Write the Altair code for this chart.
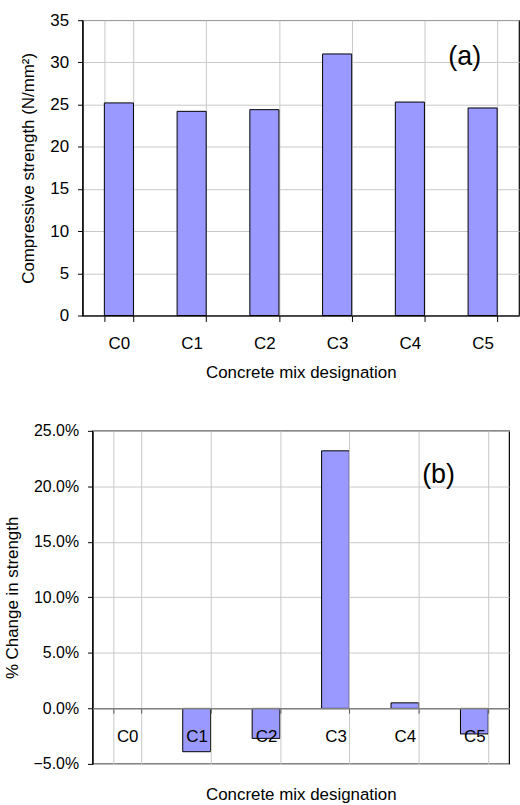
import altair as alt
import pandas as pd

mixes = ["C0", "C1", "C2", "C3", "C4", "C5"]
strength = [25.2, 24.2, 24.4, 31.0, 25.3, 24.6]
change = [0.0, -0.039, -0.027, 0.232, 0.005, -0.023]
y_ticks_a = [0, 5, 10, 15, 20, 25, 30, 35]
y_ticks_b = [-0.05, 0.0, 0.05, 0.10, 0.15, 0.20, 0.25]

FONT = "Liberation Sans"
BAR = "#9999FF"
GRID = "#c8c8c8"

df_a = pd.DataFrame({"mix": mixes, "value": strength})
df_b = pd.DataFrame({"mix": mixes, "value": change})

xscale = alt.Scale(domain=mixes, paddingInner=0.6, paddingOuter=0.3)

# ---------- chart (a)
bars_a = alt.Chart(df_a).mark_bar(color=BAR, stroke="black", strokeWidth=1).encode(
    x=alt.X("mix:N", scale=xscale, sort=mixes,
            axis=alt.Axis(title="Concrete mix designation", labelAngle=0,
                          tickBand="extent", grid=True, gridColor=GRID,
                          domainColor="black", tickColor="black", tickSize=6,
                          labelPadding=14, titlePadding=13,
                          labelFontSize=17, titleFontSize=17)),
    y=alt.Y("value:Q", scale=alt.Scale(domain=[0, 35], nice=False),
            axis=alt.Axis(title="Compressive strength (N/mm²)", values=y_ticks_a,
                          grid=True, gridColor=GRID, domainColor="black",
                          tickColor="black", tickSize=5, labelPadding=9,
                          titlePadding=12, labelFontSize=17, titleFontSize=17)),
)
lab_a = alt.Chart(pd.DataFrame({"mix": ["C5"], "value": [30.6], "t": ["(a)"]})).mark_text(
    fontSize=27, font=FONT, dx=-18, baseline="middle", color="black").encode(
    x=alt.X("mix:N", scale=xscale, sort=mixes), y="value:Q", text="t:N")
chart_a = alt.layer(bars_a, lab_a).properties(width=439, height=297)

# ---------- chart (b)
bars_b = alt.Chart(df_b).mark_bar(color=BAR, stroke="black").encode(
    x=alt.X("mix:N", scale=xscale, sort=mixes,
            axis=alt.Axis(title="Concrete mix designation", labelAngle=0,
                          tickBand="extent", grid=True, gridColor=GRID,
                          domainColor="#808080", domainWidth=1.5,
                          tickColor="#555555", tickSize=5, offset=-56,
                          labelPadding=15, titlePadding=43, zindex=1,
                          labelFontSize=17, titleFontSize=17)),
    y=alt.Y("value:Q", scale=alt.Scale(domain=[-0.05, 0.25], nice=False),
            axis=alt.Axis(title="% Change in strength", values=y_ticks_b, format=".1%",
                          grid=True, gridColor=GRID, domainColor="black",
                          tickColor="black", tickSize=5, labelPadding=9,
                          titlePadding=12, labelFontSize=16, titleFontSize=17)),
    strokeWidth=alt.condition("datum.value == 0", alt.value(0), alt.value(1)),
)
lab_b = alt.Chart(pd.DataFrame({"mix": ["C5"], "value": [0.21], "t": ["(b)"]})).mark_text(
    fontSize=27, font=FONT, dx=-36, baseline="middle", color="black").encode(
    x=alt.X("mix:N", scale=xscale, sort=mixes), y="value:Q", text="t:N")
chart_b = alt.layer(bars_b, lab_b).properties(width=419, height=335)

chart = alt.vconcat(chart_a, chart_b, spacing=116, bounds="flush", center=True).properties(
    padding={"left": 2, "top": 8, "right": 0, "bottom": 0},
).configure(font=FONT).configure_view(stroke="black", strokeWidth=1.2).configure_axis(
    labelFont=FONT, titleFont=FONT, labelColor="black", titleColor="black",
    titleFontWeight="normal", domainWidth=1.2)

chart.save("out.html", embed_options={"renderer": "svg", "actions": False})
